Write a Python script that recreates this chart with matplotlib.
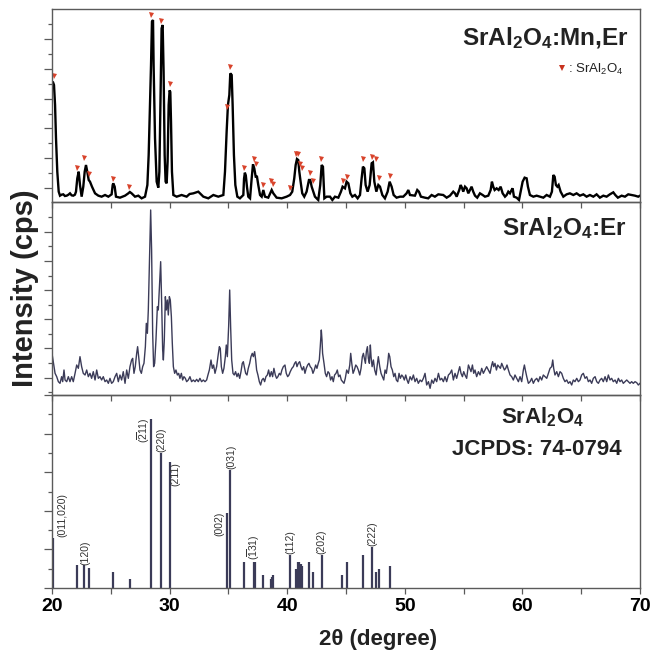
import matplotlib
matplotlib.use('Agg')
import matplotlib.pyplot as plt
from matplotlib.ticker import MultipleLocator, FixedLocator

plt.rcParams['font.family'] = ['Liberation Sans', 'DejaVu Sans']
plt.rcParams['mathtext.default'] = 'regular'

# ---------------- data ----------------
# SrAl2O4:Mn,Er pattern (2theta, intensity a.u.)
mn_tth = [20.00, 20.10, 20.17, 20.26, 20.34, 20.45, 20.57, 20.68, 20.82, 20.96, 21.10, 21.25, 21.40, 21.53,
          21.67, 21.81, 21.95, 22.04, 22.15, 22.22, 22.27, 22.38, 22.52, 22.66, 22.78, 22.89, 23.00, 23.12,
          23.23, 23.40, 23.66, 23.94, 24.22, 24.51, 24.79, 25.07, 25.16, 25.21, 25.33, 25.44, 25.78, 26.21,
          26.49, 26.62, 26.77, 27.06, 27.34, 27.62, 27.91, 28.11, 28.22, 28.33, 28.42, 28.50, 28.59, 28.64,
          28.76, 28.90, 29.04, 29.13, 29.24, 29.32, 29.41, 29.49, 29.58, 29.66, 29.75, 29.83, 29.92, 30.00,
          30.06, 30.12, 30.20, 30.32, 30.60, 31.02, 31.45, 31.70, 32.02, 32.44, 32.87, 33.29, 33.72, 34.14,
          34.57, 34.71, 34.85, 34.96, 35.08, 35.16, 35.28, 35.36, 35.47, 35.59, 35.76, 35.98, 36.27, 36.33,
          36.40, 36.48, 36.58, 36.69, 36.84, 36.98, 37.09, 37.20, 37.32, 37.43, 37.54, 37.69, 37.83, 37.97,
          38.11, 38.39, 38.68, 38.82, 39.10, 39.53, 39.95, 40.24, 40.43, 40.60, 40.72, 40.83, 40.94, 41.03,
          41.14, 41.28, 41.45, 41.65, 41.85, 41.96, 42.08, 42.22, 42.36, 42.64, 42.81, 42.93, 43.04, 43.16,
          43.35, 43.64, 43.84, 44.06, 44.35, 44.57, 44.71, 44.91, 45.05, 45.20, 45.37, 45.54, 45.76, 45.99,
          46.19, 46.33, 46.44, 46.56, 46.67, 46.84, 47.01, 47.18, 47.29, 47.41, 47.58, 47.75, 47.89, 48.09,
          48.31, 48.54, 48.71, 48.88, 49.05, 49.30, 49.59, 49.87, 50.15, 50.30, 50.44, 50.86, 51.06, 51.20,
          51.37, 51.71, 51.99, 52.28, 52.56, 52.85, 53.27, 53.56, 53.84, 54.12, 54.27, 54.41, 54.63, 54.75,
          54.86, 54.97, 55.12, 55.26, 55.40, 55.54, 55.68, 55.82, 55.97, 56.16, 56.39, 56.62, 56.82, 57.10,
          57.30, 57.41, 57.52, 57.64, 57.81, 57.98, 58.15, 58.32, 58.52, 58.66, 58.80, 58.94, 59.08, 59.17,
          59.28, 59.51, 59.71, 59.85, 60.02, 60.19, 60.36, 60.47, 60.64, 60.93, 61.21, 61.49, 61.78, 62.06,
          62.34, 62.51, 62.63, 62.74, 62.85, 62.97, 63.08, 63.25, 63.48, 63.76, 64.04, 64.33, 64.61, 64.89,
          65.18, 65.46, 65.74, 66.03, 66.31, 66.59, 66.88, 67.16, 67.44, 67.73, 67.90, 68.12, 68.44, 68.72,
          69.00, 69.29, 69.57, 69.85, 70.00]
mn_int = [356, 358, 351, 291, 191, 91, 31, 19, 22, 23, 18, 19, 22, 26,
          20, 19, 22, 31, 71, 82, 91, 51, 16, 46, 91, 111, 91, 66,
          61, 46, 26, 19, 16, 21, 16, 23, 51, 56, 46, 16, 13, 19,
          26, 30, 26, 16, 19, 11, 16, 51, 141, 291, 411, 541, 546, 411,
          191, 61, 43, 91, 341, 521, 531, 391, 141, 61, 56, 121, 291, 335,
          330, 241, 91, 21, 16, 21, 16, 24, 26, 31, 16, 11, 21, 16,
          21, 91, 211, 291, 321, 386, 381, 291, 141, 51, 16, 11, 21, 70,
          88, 80, 45, 16, 11, 71, 113, 101, 76, 76, 51, 21, 16, 36,
          16, 13, 36, 26, 13, 11, 16, 21, 31, 71, 111, 129, 126, 91,
          61, 26, 16, 31, 66, 66, 46, 31, 16, 6, 51, 111, 106, 11,
          16, 16, 6, 16, 13, 31, 46, 41, 61, 56, 26, 16, 21, 11,
          21, 71, 106, 101, 51, 31, 51, 116, 119, 61, 31, 51, 46, 21,
          11, 31, 61, 46, 21, 13, 16, 16, 26, 36, 21, 19, 36, 31,
          16, 13, 11, 21, 16, 23, 21, 13, 19, 31, 26, 16, 36, 51,
          43, 31, 46, 41, 26, 36, 46, 31, 19, 13, 26, 21, 16, 19,
          36, 61, 46, 36, 41, 36, 46, 26, 16, 21, 31, 26, 36, 41,
          16, 13, 6, 31, 61, 73, 71, 46, 21, 16, 19, 16, 13, 21,
          16, 31, 81, 76, 51, 46, 51, 31, 16, 23, 26, 21, 26, 19,
          23, 16, 21, 16, 23, 13, 19, 16, 23, 29, 21, 13, 19, 16,
          23, 21, 19, 16, 19]

# SrAl2O4 reflection markers on the Mn,Er pattern
mark_tth = [20.17, 22.15, 22.75, 23.15, 25.21, 26.57, 28.45, 29.27, 30.00, 34.88, 35.16, 36.32, 37.15, 37.32,
            37.97, 38.62, 38.82, 40.26, 40.75, 40.92, 41.09, 41.28, 41.91, 42.16, 42.90, 44.71, 45.08, 46.44,
            47.18, 47.58, 47.83, 48.74]
mark_int = [379, 103, 131, 84, 68, 46, 561, 542, 355, 286, 405, 101, 128, 113,
            51, 64, 53, 43, 143, 145, 113, 101, 88, 63, 130, 64, 76, 128,
            136, 128, 73, 78]

# SrAl2O4:Er pattern
er_tth = [20.02, 20.26, 20.40, 20.54, 20.68, 20.82, 20.91, 21.02, 21.11, 21.25, 21.39, 21.53, 21.67, 21.81,
          21.96, 22.10, 22.24, 22.38, 22.52, 22.66, 22.81, 22.95, 23.09, 23.23, 23.37, 23.51, 23.66, 23.80,
          23.94, 24.08, 24.22, 24.36, 24.51, 24.65, 24.79, 24.93, 25.07, 25.21, 25.36, 25.50, 25.64, 25.78,
          25.92, 26.06, 26.21, 26.35, 26.49, 26.63, 26.77, 26.86, 26.97, 27.08, 27.20, 27.28, 27.37, 27.48,
          27.60, 27.71, 27.82, 27.94, 28.02, 28.11, 28.19, 28.28, 28.39, 28.47, 28.56, 28.64, 28.73, 28.84,
          28.96, 29.04, 29.15, 29.24, 29.32, 29.41, 29.47, 29.55, 29.64, 29.72, 29.81, 29.89, 29.98, 30.06,
          30.15, 30.23, 30.32, 30.43, 30.54, 30.66, 30.77, 30.88, 31.00, 31.11, 31.22, 31.34, 31.45, 31.59,
          31.73, 31.87, 32.02, 32.16, 32.30, 32.44, 32.58, 32.72, 32.87, 33.01, 33.15, 33.26, 33.38, 33.52,
          33.63, 33.74, 33.86, 34.00, 34.11, 34.23, 34.31, 34.40, 34.51, 34.62, 34.74, 34.82, 34.91, 35.02,
          35.11, 35.19, 35.28, 35.39, 35.50, 35.61, 35.73, 35.84, 35.96, 36.07, 36.18, 36.27, 36.35, 36.47,
          36.58, 36.69, 36.81, 36.92, 37.03, 37.12, 37.23, 37.32, 37.40, 37.51, 37.63, 37.74, 37.85, 37.97,
          38.08, 38.19, 38.31, 38.42, 38.53, 38.65, 38.76, 38.87, 38.99, 39.10, 39.21, 39.33, 39.44, 39.55,
          39.67, 39.81, 39.92, 40.04, 40.15, 40.26, 40.40, 40.52, 40.63, 40.74, 40.83, 40.94, 41.06, 41.17,
          41.28, 41.40, 41.51, 41.62, 41.74, 41.85, 41.96, 42.08, 42.19, 42.30, 42.42, 42.53, 42.64, 42.73,
          42.81, 42.90, 42.96, 43.01, 43.13, 43.24, 43.35, 43.47, 43.58, 43.69, 43.81, 43.92, 44.03, 44.15,
          44.26, 44.37, 44.49, 44.60, 44.71, 44.83, 44.94, 45.06, 45.20, 45.32, 45.40, 45.49, 45.60, 45.71,
          45.83, 45.94, 46.05, 46.17, 46.28, 46.39, 46.48, 46.56, 46.65, 46.73, 46.82, 46.90, 46.99, 47.07,
          47.13, 47.22, 47.33, 47.44, 47.56, 47.64, 47.75, 47.87, 47.98, 48.09, 48.21, 48.32, 48.43, 48.55,
          48.63, 48.72, 48.83, 48.94, 49.06, 49.17, 49.28, 49.40, 49.51, 49.62, 49.74, 49.85, 49.96, 50.08,
          50.19, 50.30, 50.45, 50.59, 50.73, 50.87, 51.01, 51.15, 51.30, 51.44, 51.58, 51.72, 51.86, 52.01,
          52.15, 52.29, 52.43, 52.57, 52.71, 52.86, 53.00, 53.14, 53.28, 53.42, 53.56, 53.71, 53.85, 53.99,
          54.13, 54.27, 54.41, 54.56, 54.67, 54.78, 54.90, 55.01, 55.12, 55.26, 55.41, 55.52, 55.63, 55.75,
          55.86, 55.97, 56.11, 56.26, 56.40, 56.54, 56.68, 56.82, 56.96, 57.11, 57.25, 57.39, 57.47, 57.56,
          57.67, 57.79, 57.90, 58.01, 58.13, 58.24, 58.35, 58.47, 58.58, 58.69, 58.81, 58.95, 59.09, 59.23,
          59.37, 59.52, 59.66, 59.80, 59.94, 60.08, 60.17, 60.25, 60.37, 60.51, 60.65, 60.79, 60.93, 61.07,
          61.22, 61.36, 61.50, 61.64, 61.78, 61.92, 62.07, 62.21, 62.35, 62.49, 62.58, 62.66, 62.77, 62.92,
          63.06, 63.20, 63.34, 63.48, 63.62, 63.77, 63.91, 64.05, 64.19, 64.33, 64.47, 64.62, 64.76, 64.90,
          65.04, 65.18, 65.33, 65.47, 65.61, 65.75, 65.89, 66.03, 66.18, 66.32, 66.46, 66.60, 66.74, 66.88,
          67.03, 67.17, 67.31, 67.45, 67.59, 67.73, 67.88, 68.02, 68.16, 68.30, 68.44, 68.58, 68.73, 68.87,
          69.01, 69.15, 69.29, 69.43, 69.58, 69.72, 69.86, 70.00]
er_int = [120, 65, 55, 40, 35, 55, 40, 75, 45, 40, 55, 40, 55, 40,
          65, 90, 80, 115, 85, 65, 60, 75, 55, 65, 50, 70, 45, 75,
          50, 55, 45, 55, 40, 45, 35, 50, 35, 40, 55, 65, 40, 60,
          45, 70, 35, 75, 50, 85, 105, 110, 65, 85, 125, 145, 115, 75,
          65, 85, 95, 145, 215, 185, 255, 385, 555, 435, 185, 85, 95, 165,
          265, 255, 335, 400, 285, 135, 105, 165, 295, 255, 285, 240, 295, 285,
          235, 155, 85, 65, 75, 60, 65, 50, 65, 45, 55, 50, 40, 45,
          55, 40, 45, 40, 47, 40, 50, 40, 45, 40, 45, 60, 75, 105,
          80, 90, 65, 85, 115, 145, 140, 85, 65, 80, 115, 150, 115, 205,
          315, 205, 105, 65, 60, 70, 55, 65, 50, 70, 95, 100, 85, 65,
          60, 80, 95, 115, 125, 115, 130, 105, 75, 60, 40, 30, 45, 50,
          40, 55, 60, 75, 55, 70, 55, 80, 60, 50, 55, 65, 60, 75,
          85, 90, 65, 55, 60, 70, 80, 85, 95, 100, 85, 95, 100, 85,
          75, 85, 65, 80, 90, 95, 85, 80, 65, 75, 90, 80, 95, 105,
          145, 195, 165, 125, 95, 65, 55, 70, 65, 45, 55, 40, 60, 65,
          75, 55, 60, 45, 40, 35, 50, 75, 65, 90, 125, 95, 65, 75,
          90, 85, 75, 60, 80, 115, 125, 110, 95, 130, 145, 110, 95, 150,
          115, 85, 105, 75, 60, 85, 115, 85, 65, 55, 45, 75, 65, 95,
          125, 115, 85, 75, 55, 65, 45, 40, 65, 50, 60, 55, 45, 60,
          45, 35, 55, 45, 60, 40, 50, 35, 45, 40, 50, 65, 30, 40,
          20, 45, 35, 50, 40, 65, 45, 50, 40, 55, 40, 60, 65, 75,
          45, 65, 50, 70, 85, 65, 55, 70, 60, 50, 90, 80, 70, 90,
          65, 75, 55, 70, 60, 80, 65, 75, 85, 75, 65, 90, 100, 85,
          95, 75, 90, 85, 80, 95, 85, 75, 80, 90, 75, 60, 55, 45,
          60, 50, 40, 55, 40, 75, 90, 75, 55, 35, 40, 50, 35, 45,
          50, 40, 55, 45, 60, 55, 50, 65, 80, 85, 105, 80, 60, 70,
          55, 70, 65, 50, 40, 45, 35, 40, 30, 45, 40, 50, 40, 45,
          60, 65, 50, 55, 40, 45, 35, 50, 55, 40, 35, 45, 50, 40,
          55, 40, 60, 45, 50, 40, 45, 35, 50, 40, 45, 35, 40, 45,
          40, 35, 40, 35, 40, 37, 30, 35]

# JCPDS 74-0794 reference reflections (relative intensity)
ref_tth = [20.10, 22.13, 22.75, 23.15, 25.16, 26.60, 28.42, 29.30, 30.00, 34.90, 35.16, 36.35, 37.15, 37.30,
           37.94, 38.60, 38.74, 38.80, 40.24, 40.75, 40.89, 41.03, 41.17, 41.30, 41.88, 42.19, 42.93, 44.69,
           45.06, 46.47, 47.18, 47.55, 47.83, 48.74]
ref_int = [25.7, 11.9, 12.0, 10.2, 8.3, 4.7, 87.4, 70.1, 65.5, 39.0, 61.1, 13.5, 13.5, 13.5,
           6.6, 4.7, 5.9, 6.6, 17.1, 9.8, 13.5, 13.5, 12.4, 11.6, 13.5, 8.3, 17.1, 6.6,
           13.5, 17.1, 21.2, 8.3, 9.8, 11.6]

# Miller index annotations: text, 2theta, intensity anchor, vertical anchor
hkl_text = ['(011,020)', '(120)', r'$(\overline{2}11)$', '(220)', '(211)', '(002)', '(031)',
            r'$(\overline{1}31)$', '(112)', '(202)', '(222)']
hkl_tth = [20.90, 22.86, 27.77, 29.32, 30.46, 34.20, 35.28, 37.12, 40.30, 42.93, 47.24]
hkl_int = [26.4, 12.0, 88.6, 70.5, 65.3, 39.4, 61.5, 14.5, 17.8, 17.8, 21.8]
hkl_va = ['bottom', 'bottom', 'top', 'bottom', 'top', 'top', 'bottom', 'bottom', 'bottom', 'bottom', 'bottom']

xticks = [20, 30, 40, 50, 60, 70]

# ---------------- figure ----------------
W, H = 654, 655
fig = plt.figure(figsize=(W / 100, H / 100), dpi=100)


def rect(top_px, bot_px):
    return [52 / W, 1 - bot_px / H, 588 / W, (bot_px - top_px) / H]


ax1 = fig.add_axes(rect(9, 202))
ax2 = fig.add_axes(rect(202, 395))
ax3 = fig.add_axes(rect(395, 588))

spine_c = '#5a5a5a'
line_c = '#3b3b58'

for ax in (ax1, ax2, ax3):
    ax.patch.set_visible(False)
    ax.set_xlim(20, 70)
    ax.xaxis.set_major_locator(FixedLocator(xticks))
    ax.xaxis.set_minor_locator(MultipleLocator(5))
    for s in ax.spines.values():
        s.set_color(spine_c)
        s.set_linewidth(1.0)
    ax.tick_params(axis='x', which='both', direction='out', length=4, width=0.9,
                   color=spine_c, top=False, labelbottom=False)
    ax.tick_params(axis='y', which='major', direction='out', length=5.5, width=0.9,
                   color=spine_c, right=False, labelleft=False)
    ax.tick_params(axis='y', which='minor', direction='out', length=3, width=0.9,
                   color=spine_c, right=False)

ax3.tick_params(axis='x', labelbottom=True, labelsize=14, pad=3)
for lab in ax3.get_xticklabels():
    lab.set_fontweight('bold')

# top panel
ax1.set_ylim(0, 579)
ax1.yaxis.set_major_locator(FixedLocator([42 + 89.4 * k for k in range(6)]))
ax1.yaxis.set_minor_locator(FixedLocator([86.7 + 89.4 * k for k in range(6)]))
ax1.plot(mn_tth, mn_int, color='black', lw=1.7, solid_joinstyle='miter')
ax1.plot(mark_tth, mark_int, linestyle='none', marker='v', ms=3.6, color='#d8432b', mew=0)
ax1.text(0.98, 0.813, r'SrAl$_2$O$_4$:Mn,Er', transform=ax1.transAxes, ha='right', va='baseline',
         fontsize=17.5, fontweight='bold', color='#222222')
ax1.plot([0.867], [0.692], transform=ax1.transAxes, linestyle='none', marker='v', ms=4.5,
         color='#c8321e', mew=0, clip_on=False)
ax1.text(0.877, 0.688, r': SrAl$_2$O$_4$', transform=ax1.transAxes, ha='left', va='center',
         fontsize=9.5, color='#222222')

# middle panel
ax2.set_ylim(0, 579)
ax2.yaxis.set_major_locator(FixedLocator([52 + 87.6 * k for k in range(6)]))
ax2.yaxis.set_minor_locator(FixedLocator([8 + 87.6 * k for k in range(7)]))
ax2.plot(er_tth, er_int, color=line_c, lw=1.0)
ax2.text(0.978, 0.829, r'SrAl$_2$O$_4$:Er', transform=ax2.transAxes, ha='right', va='baseline',
         fontsize=17.5, fontweight='bold', color='#222222')

# bottom panel
ax3.set_ylim(0, 100)
ax3.yaxis.set_major_locator(MultipleLocator(20))
ax3.yaxis.set_minor_locator(FixedLocator([10, 30, 50, 70, 90]))
ax3.vlines(ref_tth, 0, ref_int, color=line_c, lw=1.6)
for t, x, y, va in zip(hkl_text, hkl_tth, hkl_int, hkl_va):
    ax3.text(x, y, t, rotation=90, ha='center', va=va, fontsize=7.5, color='#333333')
ax3.text(0.835, 0.855, r'SrAl$_2$O$_4$', transform=ax3.transAxes, ha='center', va='baseline',
         fontsize=16, fontweight='bold', color='#222222')
ax3.text(0.825, 0.689, 'JCPDS: 74-0794', transform=ax3.transAxes, ha='center', va='baseline',
         fontsize=16, fontweight='bold', color='#222222')

# axis labels
fig.text(25 / W, 1 - 288 / H, 'Intensity (cps)', rotation=90, ha='center', va='center',
         fontsize=21, fontweight='bold', color='#222222')
fig.text(378 / W, 1 - 640 / H, '2θ (degree)', ha='center', va='center',
         fontsize=16, fontweight='bold', color='#222222')

fig.savefig('out.png', dpi=100)
